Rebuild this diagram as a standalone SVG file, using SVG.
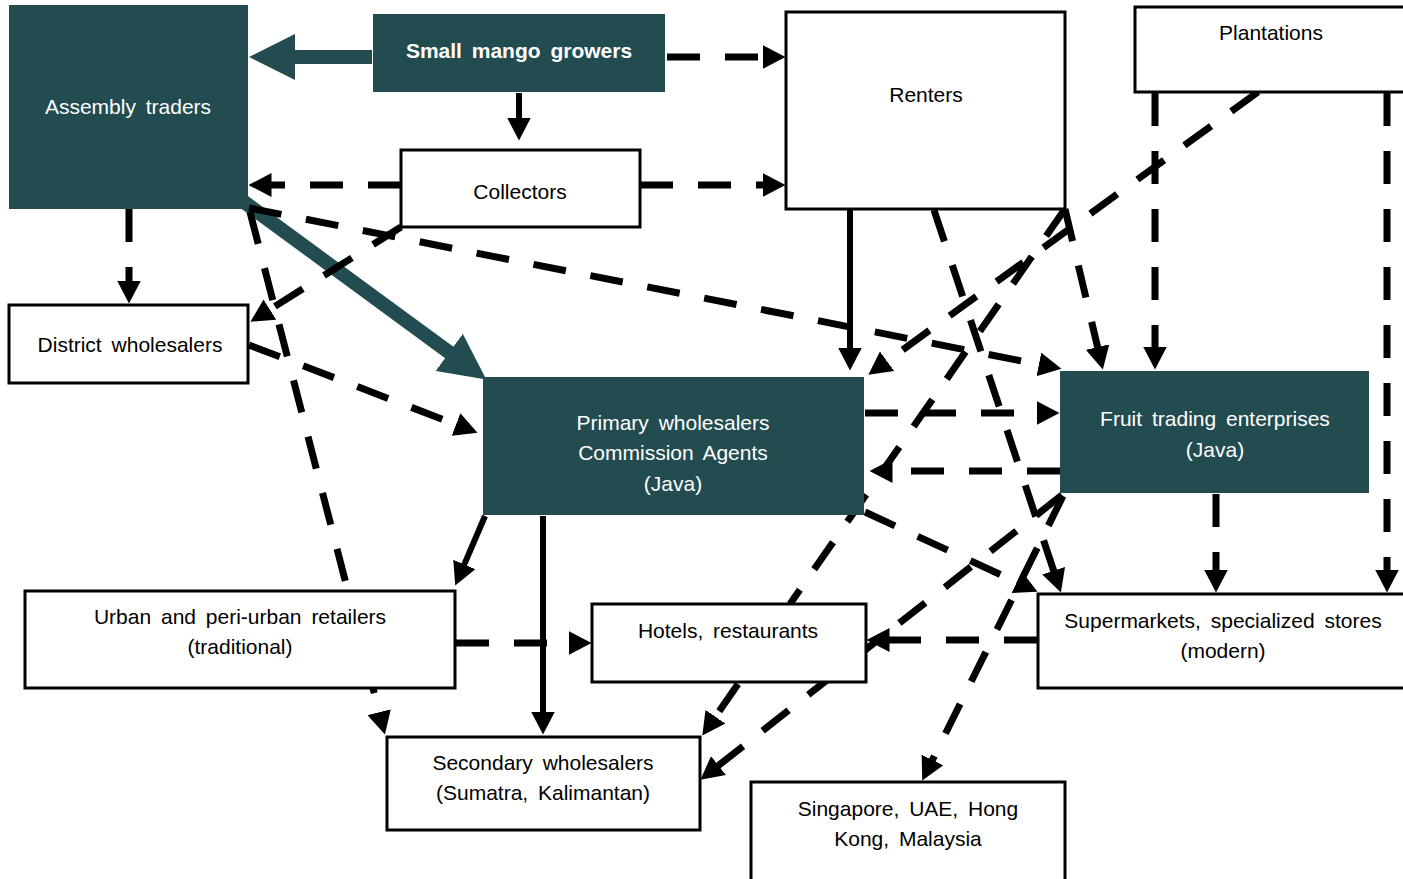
<svg xmlns="http://www.w3.org/2000/svg" width="1403" height="879" viewBox="0 0 1403 879">
  <style>
    .box { fill: #ffffff; stroke: #000000; stroke-width: 3; }
    .dark { fill: #234C50; }
    .lbl { font-family: "Liberation Sans", Arial, sans-serif; font-size: 21px; text-anchor: middle; word-spacing: 4px; fill: #000000; }
    .w { fill: #ffffff; }
    .b { font-weight: bold; }
    .dash { fill: none; stroke: #000000; stroke-width: 7; stroke-dasharray: 33 25; marker-end: url(#ah); }
    .plain { fill: none; stroke: #000000; stroke-width: 7; stroke-dasharray: 33 25; }
    .solid { fill: none; stroke: #000000; stroke-width: 6; marker-end: url(#ah); }
    .thick { fill: none; stroke: #234C50; stroke-width: 14; marker-end: url(#ahT); }
  </style>
  <defs>
    <marker id="ah" markerUnits="userSpaceOnUse" viewBox="0 0 23 24" markerWidth="23" markerHeight="24" refX="0.5" refY="12" orient="auto">
      <path d="M0,0 L23,12 L0,24 Z" fill="#000000"/>
    </marker>
    <marker id="ahT" markerUnits="userSpaceOnUse" viewBox="0 0 46 46" markerWidth="46" markerHeight="46" refX="1" refY="23" orient="auto">
      <path d="M0,0 L46,23 L0,46 Z" fill="#234C50"/>
    </marker>
  </defs>
  <rect width="1403" height="879" fill="#ffffff"/>

  <!-- flows -->
  <g id="connectors">
    <!-- main (heavy) flows -->
    <path class="thick" d="M372,57 H294"/>
    <path class="thick" d="M240,199 L450,353"/>

    <!-- solid flows -->
    <path class="solid" d="M519,93 V118"/>
    <path class="solid" d="M850,210 V348"/>
    <path class="solid" d="M485,516 L464.1,564.9"/>
    <path class="solid" d="M543,516 V712"/>

    <!-- dashed flows -->
    <path class="dash" d="M667,57 H763"/>
    <path class="dash" d="M640,185 H763"/>
    <path class="dash" d="M401,185 H271"/>
    <path class="dash" d="M129,209 V281"/>
    <path class="dash" d="M249,208 L1039.4,364.5"/>
    <path class="dash" d="M401,227 L269.5,309.8"/>
    <path class="dash" d="M250,212 L379.3,712.7"/>
    <path class="dash" d="M249,345 L456.5,424.7"/>
    <path class="dash" d="M456,643 H569"/>
    <path class="dash" d="M1065,209 L1097.7,347.6"/>
    <path class="dash" d="M934,210 L1053.8,571.2"/>
    <path class="plain" d="M1065,209 L790,604"/>
    <path class="dash" d="M1258,92 L886.6,361.5"/>
    <path class="dash" d="M865,413 H1037"/>
    <path class="dash" d="M1060,471 H892"/>
    <path class="dash" d="M865,512 L1017.1,582.3"/>
    <path class="dash" d="M1063,496 L932.2,760.4"/>
    <path class="dash" d="M1062,495 L718.1,765.8"/>
    <path class="dash" d="M1037,640 H889"/>
    <path class="dash" d="M738,684 L715.1,717.1"/>
    <path class="dash" d="M1155,93 V347"/>
    <path class="dash" d="M1387,93 V570"/>
    <path class="dash" d="M1216,494 V570"/>
  </g>

  <!-- actors -->
  <g id="assembly-traders">
    <rect class="dark" x="9" y="5" width="239" height="204"/>
    <text class="lbl w" x="128" y="114">Assembly traders</text>
  </g>
  <g id="small-mango-growers">
    <rect class="dark" x="373" y="14" width="292" height="78"/>
    <text class="lbl w b" x="519" y="58">Small mango growers</text>
  </g>
  <g id="renters">
    <rect class="box" x="786" y="12" width="279" height="197"/>
    <text class="lbl" x="926" y="102">Renters</text>
  </g>
  <g id="plantations">
    <rect class="box" x="1135" y="7" width="275" height="85"/>
    <text class="lbl" x="1271" y="40">Plantations</text>
  </g>
  <g id="collectors">
    <rect class="box" x="401" y="150" width="239" height="77"/>
    <text class="lbl" x="520" y="199">Collectors</text>
  </g>
  <g id="district-wholesalers">
    <rect class="box" x="9" y="305" width="239" height="78"/>
    <text class="lbl" x="130" y="352">District wholesalers</text>
  </g>
  <g id="primary-wholesalers">
    <rect class="dark" x="483" y="377" width="381" height="138"/>
    <text class="lbl w" x="673" y="430">Primary wholesalers</text>
    <text class="lbl w" x="673" y="460">Commission Agents</text>
    <text class="lbl w" x="673" y="491">(Java)</text>
  </g>
  <g id="fruit-trading-enterprises">
    <rect class="dark" x="1060" y="371" width="309" height="122"/>
    <text class="lbl w" x="1215" y="426">Fruit trading enterprises</text>
    <text class="lbl w" x="1215" y="457">(Java)</text>
  </g>
  <g id="urban-retailers">
    <rect class="box" x="25" y="591" width="430" height="97"/>
    <text class="lbl" x="240" y="624">Urban and peri-urban retailers</text>
    <text class="lbl" x="240" y="654">(traditional)</text>
  </g>
  <g id="hotels-restaurants">
    <rect class="box" x="592" y="604" width="274" height="78"/>
    <text class="lbl" x="728" y="638">Hotels, restaurants</text>
  </g>
  <g id="supermarkets">
    <rect class="box" x="1038" y="594" width="380" height="94"/>
    <text class="lbl" x="1223" y="628">Supermarkets, specialized stores</text>
    <text class="lbl" x="1223" y="658">(modern)</text>
  </g>
  <g id="secondary-wholesalers">
    <rect class="box" x="387" y="737" width="313" height="93"/>
    <text class="lbl" x="543" y="770">Secondary wholesalers</text>
    <text class="lbl" x="543" y="800">(Sumatra, Kalimantan)</text>
  </g>
  <g id="export-markets">
    <rect class="box" x="751" y="782" width="314" height="110"/>
    <text class="lbl" x="908" y="816">Singapore, UAE, Hong</text>
    <text class="lbl" x="908" y="846">Kong, Malaysia</text>
  </g>
</svg>
